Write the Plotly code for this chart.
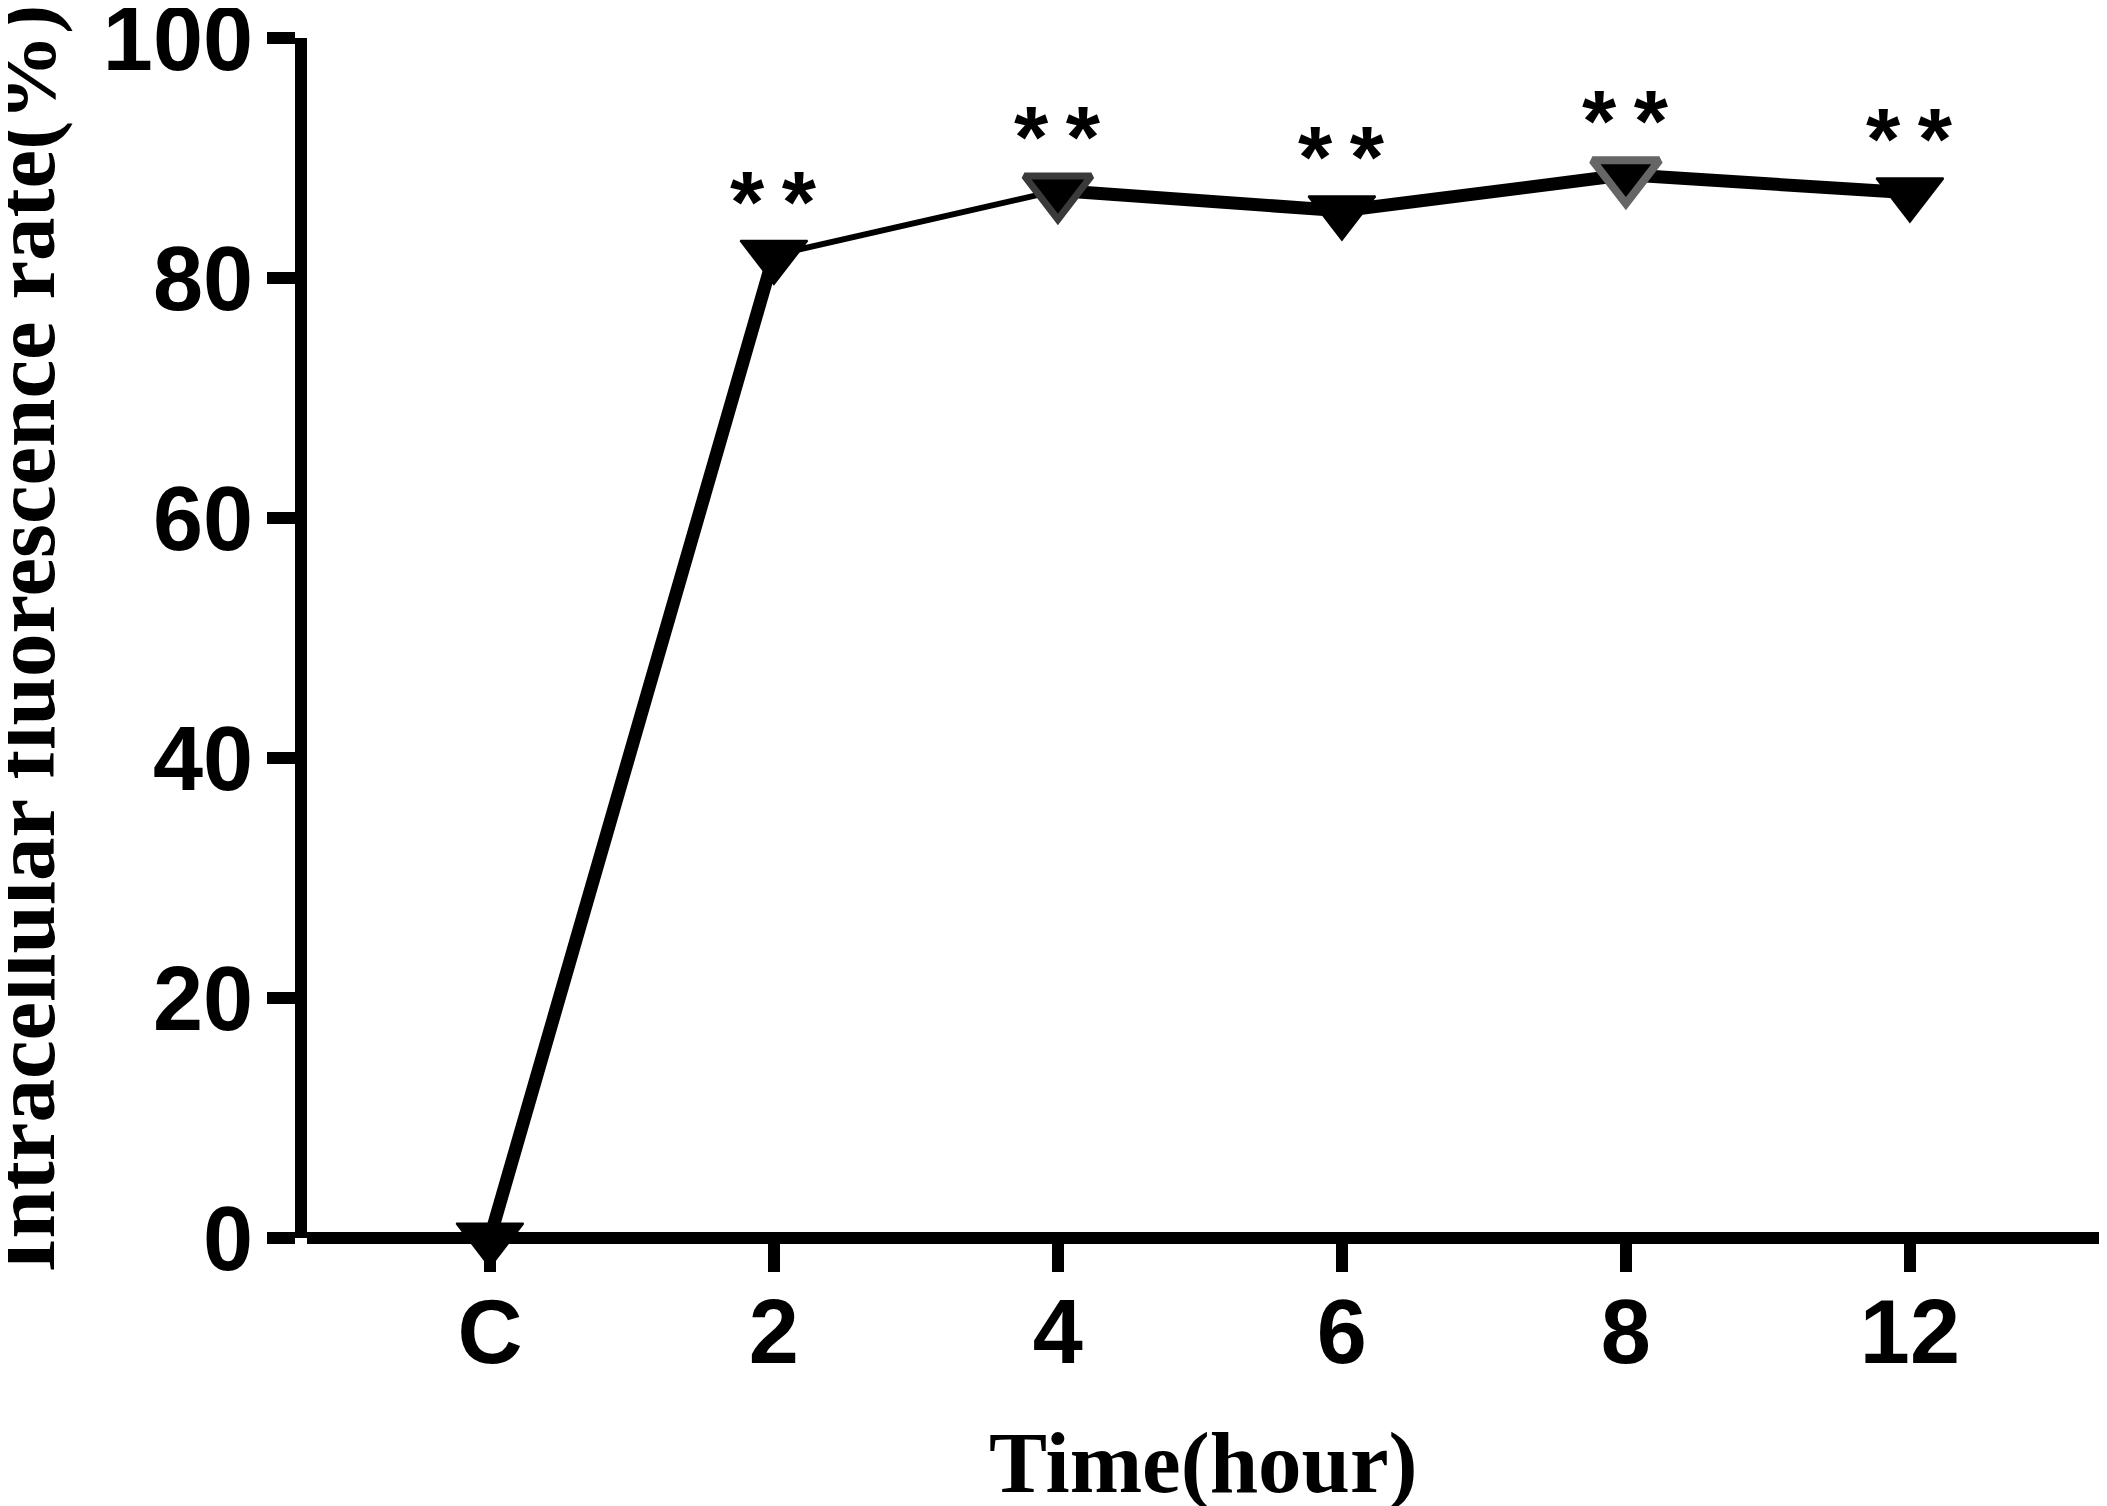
import plotly.graph_objects as go

# time points and intracellular fluorescence rate (%)
time_labels = ["C", "2", "4", "6", "8", "12"]
fluo_rate = [0.0, 81.9, 87.3, 85.6, 88.6, 87.1]
signif = ["", "**", "**", "**", "**", "**"]

y_ticks = [0, 20, 40, 60, 80, 100]

x_pos = list(range(len(time_labels)))

# segment widths / marker styles (the original graph mixes them)
seg_width = [13, 6, 13, 13, 13]
mk_fill = ["black", "black", "black", "black", "black", "black"]
mk_edge = ["black", "black", "#3a3a3a", "black", "#666666", "black"]
mk_edge_w = [2, 2, 7, 2, 8, 2]

tick_font = dict(family="Liberation Sans, Arial, sans-serif", size=90, color="black", weight="bold")
title_font = dict(family="Liberation Serif, Times New Roman, serif", size=87, color="black", weight="bold")

fig = go.Figure()

for i in range(len(x_pos) - 1):
    fig.add_trace(go.Scatter(
        x=x_pos[i:i + 2], y=fluo_rate[i:i + 2],
        mode="lines", line=dict(color="black", width=seg_width[i]),
        hoverinfo="skip", showlegend=False, cliponaxis=False))

fig.add_trace(go.Scatter(
    x=x_pos, y=fluo_rate, mode="markers",
    marker=dict(symbol="triangle-down", size=58, color=mk_fill,
                line=dict(color=mk_edge, width=mk_edge_w)),
    showlegend=False, cliponaxis=False))

for xp, val, s in zip(x_pos, fluo_rate, signif):
    if s:
        fig.add_annotation(x=xp, y=val, text="*\u2009*", showarrow=False,
                           yshift=54, yanchor="middle",
                           font=dict(family="Liberation Sans, Arial, sans-serif", size=88,
                                     color="black", weight="bold"))

fig.add_annotation(text="Time(hour)", xref="paper", yref="paper", x=0.498, y=-0.1867,
                   xanchor="center", yanchor="middle", showarrow=False, font=title_font)
fig.add_annotation(text="Intracellular fluorescence rate(%)", xref="paper", yref="paper",
                   x=-0.157, y=0.5, textangle=-90, xanchor="center", yanchor="middle",
                   showarrow=False, font=title_font)

fig.update_xaxes(range=[-0.644, 5.694], tickvals=x_pos, ticktext=time_labels,
                 showline=False, showgrid=False, zeroline=False, automargin=False,
                 ticks="outside", ticklen=33, tickwidth=12, tickcolor="black",
                 tickfont=tick_font, ticklabelstandoff=-17)
fig.update_yaxes(range=[0, 100], tickvals=y_ticks, showline=True, linewidth=12, linecolor="black",
                 showgrid=False, zeroline=True, zerolinewidth=12, zerolinecolor="black",
                 automargin=False, ticks="outside", ticklen=28, tickwidth=12, tickcolor="black",
                 tickfont=tick_font, ticklabelstandoff=-4, ticklabeloverflow="allow")

# page body adds an 8px offset, so the figure is drawn 8px smaller
fig.update_layout(width=2099, height=1498, margin=dict(l=299, r=0, t=30, b=268),
                  plot_bgcolor="white", paper_bgcolor="white", showlegend=False)

fig.write_html("out.html")
